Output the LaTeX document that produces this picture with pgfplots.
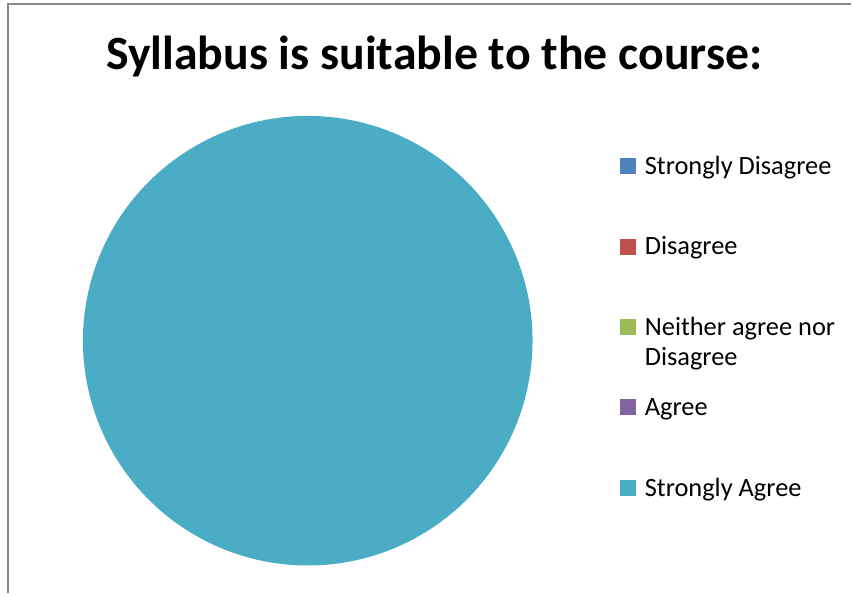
\documentclass[border=0pt]{standalone}
\usepackage{pgfplots}
\pgfplotsset{compat=1.18}
\usepackage{pgfplotstable}
\usepackage{fontspec}
\setmainfont{Carlito}

\definecolor{sdis}{HTML}{4F81BD}
\definecolor{dis}{HTML}{C0504D}
\definecolor{neu}{HTML}{9BBB59}
\definecolor{agr}{HTML}{8064A2}
\definecolor{sagr}{HTML}{4BACC6}
\definecolor{framegray}{HTML}{878787}

% share of answers (percent)
\pgfplotstableread[col sep=comma]{
label,value,colour
Strongly Disagree,0,sdis
Disagree,0,dis
Neither agree nor Disagree,0,neu
Agree,0,agr
Strongly Agree,100,sagr
}\answers

\begin{document}
\begin{tikzpicture}
\begin{axis}[
    width=852bp, height=594bp,
    scale only axis,
    xmin=0, xmax=852, ymin=0, ymax=594,
    hide axis,
    clip=false,
    legend cell align=left,
    legend style={
        at={(axis cs:621,440.5)}, anchor=north west,
        draw=none, fill=none,
        inner sep=0pt, outer sep=0pt,
        font=\fontsize{26.5}{30}\selectfont,
        nodes={inner sep=0pt, text height=21bp, text depth=9bp},
        row sep=50.5bp,
        column sep=9bp,
    },
]
% fix the picture's size
\path (axis cs:0,0) rectangle (axis cs:852,594);
% chart frame
\draw[framegray, line width=1.5bp] (axis cs:8,0) -- (axis cs:8,590) -- (axis cs:852,590);

\node[anchor=base, font=\bfseries\fontsize{48}{56}\selectfont]
    at (axis cs:434.5,524) {Syllabus is suitable to the course:};

% pie slices, clockwise from 12 o'clock
\def\startang{90}
\pgfplotsforeachungrouped \i in {0,...,4}{
    \pgfplotstablegetelem{\i}{value}\of\answers
    \let\val\pgfplotsretval
    \pgfplotstablegetelem{\i}{colour}\of\answers
    \let\col\pgfplotsretval
    \pgfmathsetmacro\endang{\startang-3.6*\val}
    \ifdim\val pt>0pt
        \edef\cmd{\noexpand\addplot[draw=none, fill=\col, domain=\endang:\startang,
            samples=361, forget plot]
            ({308+225*cos(x)},{253+225*sin(x)}) -- (axis cs:308,253) -- cycle;}
        \cmd
    \fi
    \global\let\startang\endang
}

\addlegendimage{legend image code/.code={\fill[sdis] (0bp,-5bp) rectangle (15bp,10bp);}}
\addlegendentry{Strongly Disagree}
\addlegendimage{legend image code/.code={\fill[dis] (0bp,-5bp) rectangle (15bp,10bp);}}
\addlegendentry{Disagree}
\addlegendimage{legend image code/.code={\fill[neu] (0bp,-5bp) rectangle (15bp,10bp);}}
\addlegendentry{\begin{tabular}[t]{@{}l@{}}Neither agree nor\\Disagree\end{tabular}}
\addlegendimage{legend image code/.code={\fill[agr] (0bp,-5bp) rectangle (15bp,10bp);}}
\addlegendentry{Agree}
\addlegendimage{legend image code/.code={\fill[sagr] (0bp,-5bp) rectangle (15bp,10bp);}}
\addlegendentry{Strongly Agree}
\end{axis}
\end{tikzpicture}
\end{document}
